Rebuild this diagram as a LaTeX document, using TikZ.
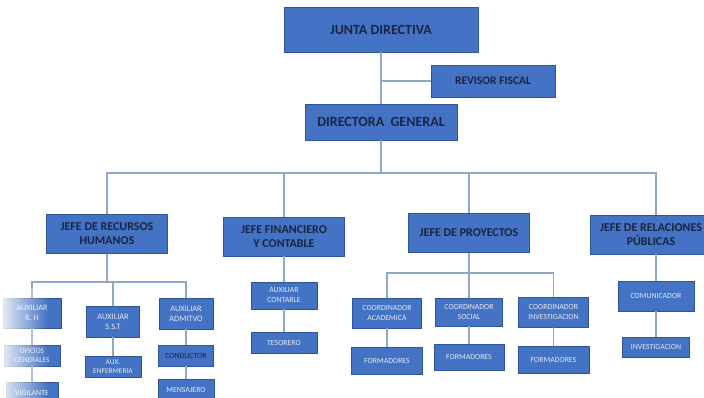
\documentclass[tikz,border=0pt]{standalone}
\usepackage{fontspec}
\setmainfont{Carlito}
\usetikzlibrary{fadings}
\definecolor{boxblue}{HTML}{4472C4}
\definecolor{boxline}{HTML}{2F5597}
\definecolor{linkgray}{HTML}{8FA8C8}
\definecolor{darktext}{HTML}{1A2540}
\definecolor{lighttext}{HTML}{E3EAF6}
\tikzfading[name=fadeR, left color=transparent!0, right color=transparent!100]
\begin{document}
\begin{tikzpicture}[x=1pt, y=-1pt,
		box/.style={draw=boxline, fill=boxblue, inner sep=0pt, align=center},
		boss/.style={box, font=\fontsize{14}{16}\selectfont\bfseries, text=darktext},
		jefe/.style={box, minimum width=121pt, minimum height=39pt, font=\fontsize{12}{14}\selectfont\bfseries, text=darktext},
		cargo/.style={box, minimum width=66pt, minimum height=21pt, font=\fontsize{7.8}{10}\selectfont, text=lighttext},
		aux/.style={cargo, font=\fontsize{8.3}{10}\selectfont},
		tiny/.style={cargo, font=\fontsize{7.4}{9}\selectfont},
		linea/.style={draw=linkgray, line width=1.6pt}]
		\useasboundingbox (0,0) rectangle (704,398);
		\clip (0,0) rectangle (704,398);
		% direccion
		\node[boss, minimum width=194pt, minimum height=45pt](JD) at (381,29.5){JUNTA DIRECTIVA};
		\node[box, minimum width=124pt, minimum height=32pt, font=\fontsize{11.5}{13}\selectfont\bfseries, text=darktext](RF) at (493,81){REVISOR FISCAL};
		\node[boss, minimum width=152pt, minimum height=36pt](DG) at (381,122){DIRECTORA\ \ GENERAL};
		% jefes
		\node[jefe](HR) at (107,234){JEFE DE RECURSOS\\HUMANOS};
		\node[jefe](FC) at (284,236.5){JEFE FINANCIERO\\Y CONTABLE};
		\node[jefe](PR) at (469,233){JEFE DE PROYECTOS};
		\node[jefe](RP) at (651,234.5){JEFE DE RELACIONES\\PÚBLICAS};
		% recursos humanos
		\node[aux, minimum width=58pt, minimum height=30pt](ARH) at (32,313){AUXILIAR\\R. H};
		\node[tiny, minimum width=56pt](OG) at (32,355.5){OFICIOS\\GENERALES};
		\node[cargo, minimum width=52pt](VIG) at (32,392.5){VIGILANTE};
		\node[aux, minimum width=53pt, minimum height=31pt](SST) at (113,321.5){AUXILIAR\\S.S.T};
		\node[tiny, minimum width=56pt](ENF) at (113,366.5){AUX.\\ENFERMERIA};
		\node[aux, minimum width=54pt, minimum height=31pt](ADM) at (186,313.5){AUXILIAR\\ADMITVO};
		\node[cargo, minimum width=55pt, text=darktext](CON) at (186,355.5){CONDUCTOR};
		\node[cargo, minimum width=56pt](MEN) at (186,390){MENSAJERO};
		% financiero
		\node[cargo, minimum height=27pt](AC) at (284,295.5){AUXILIAR\\CONTABLE};
		\node[cargo](TES) at (284,342.5){TESORERO};
		% proyectos
		\node[cargo, minimum width=69pt, minimum height=30pt](CA) at (387,313){COORDINADOR\\ACADEMICA};
		\node[cargo, minimum width=71pt, minimum height=27pt](F1) at (387,360.5){FORMADORES};
		\node[cargo, minimum width=67pt, minimum height=28pt](CS) at (469,312){COORDINADOR\\SOCIAL};
		\node[cargo, minimum width=70pt, minimum height=26pt](F2) at (469,357){FORMADORES};
		\node[cargo, minimum width=70pt, minimum height=30pt](CI) at (553.5,312){COORDINADOR\\INVESTIGACION};
		\node[cargo, minimum width=71pt, minimum height=27pt](F3) at (553.5,359.5){FORMADORES};
		% relaciones publicas
		\node[cargo, minimum width=76pt, minimum height=30pt](COM) at (656,296){COMUNICADOR};
		\node[cargo, minimum width=67pt, minimum height=20pt](INV) at (656,347){INVESTIGACION};
		% lineas
		\coordinate(B1) at (381,173);
		\coordinate(B2) at (107,282);
		\coordinate(B3) at (469,273);
		\draw[linea](JD) -- (DG);
		\draw[linea](RF.west) -- (RF.west -| JD);
		\draw[linea](DG) -- (B1);
		\draw[linea](B1) -| (HR);
		\draw[linea](B1) -| (FC);
		\draw[linea](B1) -| (PR);
		\draw[linea](B1) -| (COM |- RP.north);
		\draw[linea](HR) -- (B2);
		\draw[linea](B2) -| (ARH);
		\draw[linea](B2) -| (SST);
		\draw[linea](B2) -| (ADM);
		\draw[linea](ARH) -- (OG);
		\draw[linea](OG) -- (VIG);
		\draw[linea](SST) -- (ENF);
		\draw[linea](ADM) -- (CON);
		\draw[linea](CON) -- (MEN);
		\draw[linea](FC) -- (AC);
		\draw[linea](AC) -- (TES);
		\draw[linea](PR) -- (B3);
		\draw[linea](B3) -| (CA);
		\draw[linea](B3) -| (CS);
		\draw[linea](B3) -| (CI);
		\draw[linea](CA) -- (F1);
		\draw[linea](CS) -- (F2);
		\draw[linea](CI) -- (F3);
		\draw[linea](COM |- RP.south) -- (COM);
		\draw[linea](COM) -- (INV);
		% borde desvanecido
		\fill[white, path fading=fadeR, fill opacity=0.9] (0,288) rectangle (48,398);
	\end{tikzpicture}
\end{document}
